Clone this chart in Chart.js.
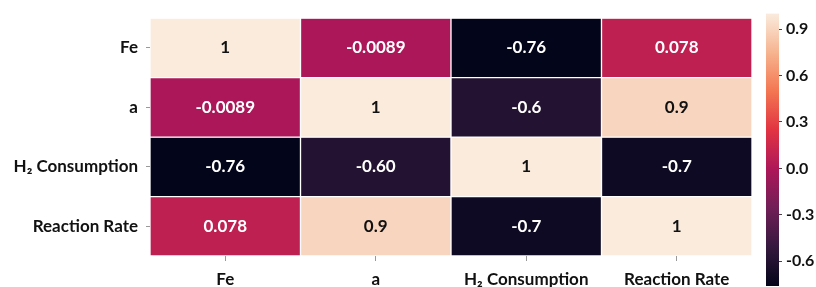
<!DOCTYPE html>
<html>
<head>
<meta charset="utf-8">
<script src="https://cdn.jsdelivr.net/npm/chart.js@4"></script>
<style>
  html, body { margin: 0; padding: 0; background: #fff; }
  body { width: 816px; height: 287px; overflow: hidden; position: relative; }
  #heat { position: absolute; left: 0; top: 0; }
  #cbar { position: absolute; left: 766px; top: 0; }
</style>
</head>
<body>
<canvas id="heat" width="816" height="287"></canvas>
<canvas id="cbar" width="50" height="300"></canvas>
<script>
// correlation matrix (rows top -> bottom, columns left -> right)
const rowNames = ['Fe', 'a', 'H\u2082 Consumption', 'Reaction Rate'];
const colNames = ['Fe', 'a', 'H\u2082 Consumption', 'Reaction Rate'];
const feRow = [1, -0.0089, -0.76, 0.078];
const aRow = [-0.0089, 1, -0.6, 0.9];
const h2Row = [-0.76, -0.60, 1, -0.7];
const rateRow = [0.078, 0.9, -0.7, 1];
const feText = ['1', '-0.0089', '-0.76', '0.078'];
const aText = ['-0.0089', '1', '-0.6', '0.9'];
const h2Text = ['-0.76', '-0.60', '1', '-0.7'];
const rateText = ['0.078', '0.9', '-0.7', '1'];
const cbTicks = [-0.6, -0.3, 0.0, 0.3, 0.6, 0.9];
const vmin = -0.76, vmax = 1.0;

const rows = [feRow, aRow, h2Row, rateRow];
const texts = [feText, aText, h2Text, rateText];

// seaborn "rocket" colormap, sampled
const rocket = [
    [0.000, '#03051A'],
    [0.143, '#35193E'],
    [0.286, '#701F57'],
    [0.429, '#AD1759'],
    [0.571, '#E13342'],
    [0.714, '#F37651'],
    [0.857, '#F6B48F'],
    [1.000, '#FAEBDD']
];

function hexRgb(h) {
    return [1, 3, 5].map(i => parseInt(h.substr(i, 2), 16));
}

function rocketColor(v) {
    let t = (v - vmin) / (vmax - vmin);
    t = Math.max(0, Math.min(1, t));
    for (let i = 1; i < rocket.length; i++) {
        if (t <= rocket[i][0]) {
            const [p0, c0] = rocket[i - 1];
            const [p1, c1] = rocket[i];
            const f = (t - p0) / (p1 - p0);
            const a = hexRgb(c0), b = hexRgb(c1);
            const c = a.map((x, k) => Math.round(x + (b[k] - x) * f));
            return `rgb(${c[0]},${c[1]},${c[2]})`;
        }
    }
    return rocket[rocket.length - 1][1];
}

const labelFont = { family: 'Lato', size: 17, weight: 'bold' };

// cell text
const annotate = {
    id: 'annotate',
    afterDatasetsDraw(chart) {
        const ctx = chart.ctx;
        ctx.save();
        ctx.font = 'bold 17px Lato';
        ctx.textAlign = 'center';
        ctx.textBaseline = 'middle';
        chart.data.datasets.forEach((ds, i) => {
            chart.getDatasetMeta(i).data.forEach((bar, j) => {
                const p = bar.getProps(['x', 'y', 'base'], true);
                ctx.fillStyle = rows[i][j] > 0.5 ? '#111' : '#fff';
                ctx.fillText(texts[i][j], p.x, (p.y + p.base) / 2);
            });
        });
        ctx.restore();
    }
};

new Chart(document.getElementById('heat'), {
    type: 'bar',
    data: {
        labels: colNames,
        datasets: rows.map((r, i) => ({
            label: rowNames[i],
            data: r.map(() => [i, i + 1]),
            backgroundColor: r.map(v => rocketColor(v)),
            borderColor: '#fff',
            borderWidth: 1,
            borderSkipped: false,
            grouped: false,
            barPercentage: 1,
            categoryPercentage: 1
        }))
    },
    options: {
        responsive: false,
        animation: false,
        events: [],
        layout: { padding: { top: 12, right: 64, left: 0, bottom: 0 } },
        plugins: { legend: { display: false }, tooltip: { enabled: false } },
        scales: {
            x: {
                grid: { offset: false, drawOnChartArea: false, drawTicks: true, tickLength: 5, color: '#999' },
                border: { display: false },
                ticks: { font: labelFont, color: '#111', padding: 8, maxRotation: 0 },
                afterFit(s) { s.height = 31; }
            },
            y: {
                min: 0,
                max: 4,
                reverse: true,
                afterBuildTicks(s) { s.ticks = rowNames.map((n, i) => ({ value: i + 0.5 })); },
                grid: { drawOnChartArea: false, drawTicks: true, tickLength: 4, color: '#999' },
                border: { display: false },
                ticks: {
                    font: labelFont,
                    color: '#111',
                    padding: 8,
                    callback: (v) => rowNames[Math.floor(v)]
                },
                afterFit(s) { s.width = 150; }
            }
        }
    },
    plugins: [annotate]
});

// colour bar
new Chart(document.getElementById('cbar'), {
    type: 'bar',
    data: {
        labels: [''],
        datasets: [{
            data: [[vmin, vmax]],
            backgroundColor(c) {
                const chart = c.chart;
                if (!chart.chartArea) return '#000';
                const y = chart.scales.y;
                const g = chart.ctx.createLinearGradient(0, y.getPixelForValue(vmax), 0, y.getPixelForValue(vmin));
                rocket.forEach(([p, col]) => g.addColorStop(1 - p, col));
                return g;
            },
            borderWidth: 0,
            barPercentage: 1,
            categoryPercentage: 1
        }]
    },
    options: {
        responsive: false,
        animation: false,
        events: [],
        layout: { padding: { top: 13, bottom: 14, left: 0, right: 0 } },
        plugins: { legend: { display: false }, tooltip: { enabled: false } },
        scales: {
            x: { display: false },
            y: {
                position: 'right',
                min: vmin,
                max: vmax,
                afterBuildTicks(s) { s.ticks = cbTicks.map(v => ({ value: v })); },
                grid: { drawOnChartArea: false, drawTicks: true, tickLength: 3, color: '#444' },
                border: { display: false },
                ticks: {
                    font: { family: 'Lato', size: 16, weight: 'bold' },
                    color: '#111',
                    padding: 4,
                    callback: (v) => v.toFixed(1)
                },
                afterFit(s) { s.width = 37; }
            }
        }
    }
});
</script>
</body>
</html>
